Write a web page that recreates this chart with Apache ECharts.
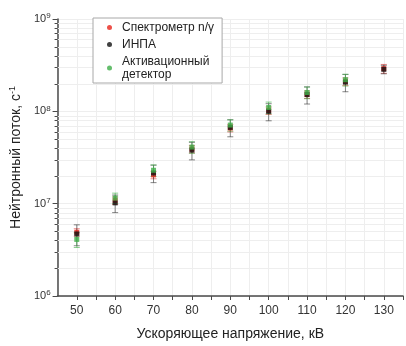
<!DOCTYPE html>
<html>
<head>
<meta charset="utf-8">
<script src="https://cdn.jsdelivr.net/npm/echarts@6/dist/echarts.min.js"></script>
<style>
  html, body { margin: 0; padding: 0; background: #fff; }
  #chart { width: 406px; height: 346px; }
</style>
</head>
<body>
<div id="chart"></div>
<script>
// ускоряющее напряжение, кВ
const xValues = [50, 60, 70, 80, 90, 100, 110, 120, 130];

// Спектрометр n/γ
const spectrometer = [4.9e6, 1.08e7, 2.05e7, 3.9e7, 6.6e7, 1.02e8, 1.52e8, 2.1e8, 2.9e8];
const spectrometerErr = [0.45e6, 1.0e6, 1.9e6, 3.6e6, 6.2e6, 0.95e7, 1.4e7, 2.0e7, 3.2e7];

// ИНПА
const inpa = [4.7e6, 1.02e7, 2.15e7, 3.8e7, 6.7e7, 1.0e8, 1.52e8, 2.07e8, 2.85e8];
const inpaErr = [1.2e6, 2.2e6, 4.6e6, 8.2e6, 1.4e7, 2.1e7, 3.2e7, 4.4e7, 3.0e7];

// Активационный детектор (нет точки при 130 кВ)
const activation = [4.1e6, 1.15e7, 2.3e7, 4.1e7, 7.1e7, 1.1e8, 1.6e8, 2.2e8];
const activationErr = [0.75e6, 1.5e6, 3.3e6, 5.9e6, 1.0e7, 1.6e7, 2.3e7, 3.2e7];

// промежуточные деления логарифмической оси
const minorTicks = [
  2e6, 3e6, 4e6, 5e6, 6e6, 7e6, 8e6, 9e6,
  2e7, 3e7, 4e7, 5e7, 6e7, 7e7, 8e7, 9e7,
  2e8, 3e8, 4e8, 5e8, 6e8, 7e8, 8e8, 9e8
];

const FONT = '"Liberation Sans", Arial, sans-serif';
const AXIS_COLOR = '#4a4a4a';
const GRID_COLOR = '#eeeeee';

function points(values) {
  return values.map((v, i) => [xValues[i], v]);
}

function errorBars(name, color, values, errs) {
  return {
    name: name,
    type: 'custom',
    silent: true,
    z: 2,
    data: values.map((v, i) => [xValues[i], v - errs[i], v + errs[i]]),
    encode: { x: 0, y: [1, 2] },
    renderItem: function (params, api) {
      const x = api.value(0);
      const lo = api.coord([x, api.value(1)]);
      const hi = api.coord([x, api.value(2)]);
      const w = 3;
      const style = { stroke: color, lineWidth: 1, opacity: 0.6 };
      return {
        type: 'group',
        children: [
          { type: 'line', shape: { x1: lo[0], y1: lo[1], x2: hi[0], y2: hi[1] }, style: style },
          { type: 'line', shape: { x1: lo[0] - w, y1: lo[1], x2: lo[0] + w, y2: lo[1] }, style: style },
          { type: 'line', shape: { x1: hi[0] - w, y1: hi[1], x2: hi[0] + w, y2: hi[1] }, style: style }
        ]
      };
    }
  };
}

function scatter(name, color, values) {
  return {
    name: name,
    type: 'scatter',
    symbol: 'rect',
    symbolSize: 5,
    z: 3,
    itemStyle: { color: color },
    data: points(values)
  };
}

const chart = echarts.init(document.getElementById('chart'));

chart.setOption({
  backgroundColor: '#fff',
  animation: false,
  textStyle: { fontFamily: FONT },
  grid: { left: 54, top: 19, width: 355, height: 281 },
  legend: {
    data: ['Спектрометр n/γ', 'ИНПА', 'Активационный\nдетектор'],
    orient: 'vertical',
    left: 93,
    top: 18,
    width: 124,
    padding: [3, 8, 2, 14],
    itemGap: 4,
    itemWidth: 5,
    itemHeight: 5,
    icon: 'circle',
    backgroundColor: '#fff',
    borderColor: '#a8a8a8',
    borderWidth: 1,
    textStyle: { fontFamily: FONT, fontSize: 12, color: '#222', lineHeight: 13, padding: [0, 0, 0, 5] }
  },
  xAxis: {
    type: 'value',
    min: 45,
    max: 135,
    interval: 5,
    name: 'Ускоряющее напряжение, кВ',
    nameLocation: 'middle',
    nameGap: 31,
    nameTextStyle: { fontFamily: FONT, fontSize: 14, color: '#222' },
    axisLine: { show: true, lineStyle: { color: AXIS_COLOR, width: 1.5 } },
    axisTick: { show: true, length: 4, lineStyle: { color: AXIS_COLOR } },
    axisLabel: {
      fontFamily: FONT, fontSize: 12, color: '#333', margin: 9,
      showMinLabel: false,
      formatter: v => (v % 10 === 0 ? String(v) : '')
    },
    splitLine: { show: true, lineStyle: { color: GRID_COLOR, width: 1 } }
  },
  yAxis: {
    type: 'log',
    logBase: 10,
    min: 1e6,
    max: 1e9,
    name: '{a|Нейтронный поток, с}{s|-1}',
    nameLocation: 'middle',
    nameGap: 31,
    nameRotate: 90,
    nameTextStyle: {
      rich: {
        a: { fontFamily: FONT, fontSize: 14, color: '#222', lineHeight: 16 },
        s: { fontFamily: FONT, fontSize: 9, color: '#222', verticalAlign: 'top', lineHeight: 16, padding: [0, 0, 6, 0] }
      }
    },
    axisLine: { show: true, lineStyle: { color: AXIS_COLOR, width: 1.5 } },
    axisTick: { show: true, length: 5, lineStyle: { color: AXIS_COLOR } },
    axisLabel: {
      margin: 7,
      formatter: v => '{b|10}{s|' + Math.round(Math.log10(v)) + '}',
      rich: {
        b: { fontFamily: FONT, fontSize: 11, color: '#333', lineHeight: 14 },
        s: { fontFamily: FONT, fontSize: 8, color: '#333', verticalAlign: 'top', lineHeight: 14, padding: [0, 0, 5, 0] }
      }
    },
    splitLine: { show: true, lineStyle: { color: GRID_COLOR, width: 1 } }
  },
  series: [
    {
      name: 'minor',
      type: 'custom',
      silent: true,
      z: 1,
      data: minorTicks.map(v => [45, v]),
      encode: { x: 0, y: 1 },
      renderItem: function (params, api) {
        const cs = params.coordSys;
        const y = Math.round(api.coord([45, api.value(1)])[1]) + 0.5;
        return {
          type: 'group',
          children: [
            { type: 'line', shape: { x1: cs.x, y1: y, x2: cs.x + cs.width, y2: y }, style: { stroke: GRID_COLOR, lineWidth: 1 } },
            { type: 'line', shape: { x1: cs.x - 3, y1: y, x2: cs.x, y2: y }, style: { stroke: AXIS_COLOR, lineWidth: 1 } }
          ]
        };
      }
    },
    errorBars('errSpectrometer', '#e53935', spectrometer, spectrometerErr),
    errorBars('errInpa', '#333333', inpa, inpaErr),
    errorBars('errActivation', '#3fae49', activation, activationErr),
    scatter('Спектрометр n/γ', '#e8241c', spectrometer),
    scatter('ИНПА', '#111111', inpa),
    scatter('Активационный\nдетектор', '#3fae49', activation)
  ]
});
</script>
</body>
</html>
